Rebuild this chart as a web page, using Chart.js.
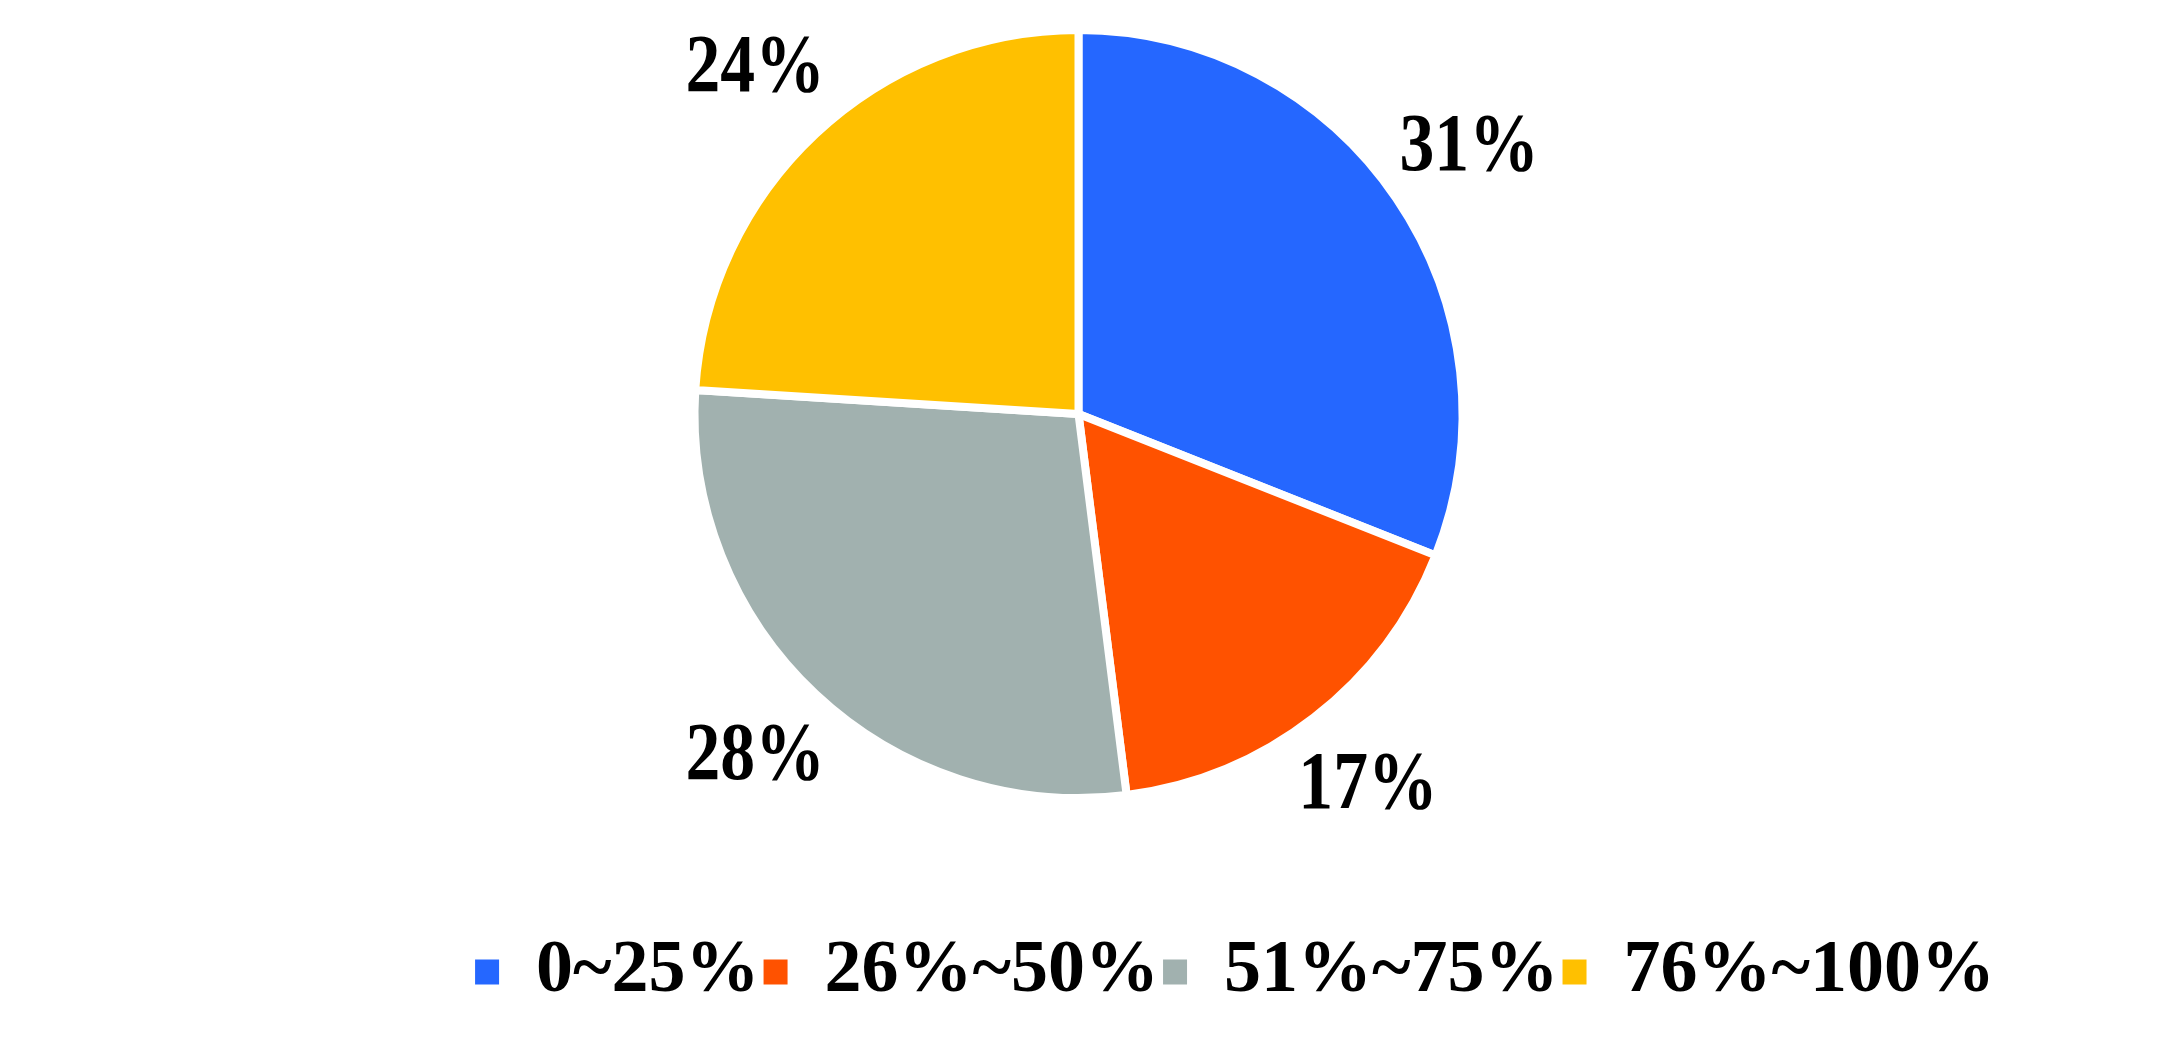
<!DOCTYPE html>
<html>
<head>
<meta charset="utf-8">
<script src="https://cdn.jsdelivr.net/npm/chart.js@4"></script>
<style>
  html, body { margin: 0; padding: 0; background: #fff; }
  #wrap { width: 2157px; height: 1059px; }
</style>
</head>
<body>
<div id="wrap"><canvas id="chart"></canvas></div>
<script>
const categories = ['0~25%', '26%~50%', '51%~75%', '76%~100%'];
const shares = [31, 17, 28, 24];
const slice_colors = ['#2567FF', '#FF5200', '#A1B1AF', '#FFC000'];

// percent labels outside each slice, along its middle angle
const outside_labels = {
    id: 'outside_labels',
    afterDatasetsDraw(chart) {
        const ctx = chart.ctx;
        const meta = chart.getDatasetMeta(0);
        ctx.save();
        ctx.fillStyle = '#000';
        ctx.font = 'bold 82px "Liberation Serif", "Times New Roman", serif';
        ctx.textAlign = 'center';
        ctx.textBaseline = 'middle';
        meta.data.forEach((arc, i) => {
            const p = arc.getProps(['x', 'y', 'startAngle', 'endAngle', 'outerRadius'], true);
            const mid = (p.startAngle + p.endAngle) / 2;
            const r = p.outerRadius * 1.23;
            const lx = p.x + Math.cos(mid) * r;
            const ly = p.y + Math.sin(mid) * r;
            ctx.save();
            ctx.translate(lx, ly);
            ctx.scale(0.85, 1);
            ctx.fillText(shares[i] + '%', 0, 0);
            ctx.restore();
        });
        ctx.restore();
    }
};

new Chart(document.getElementById('chart'), {
    type: 'pie',
    data: {
        labels: categories,
        datasets: [{
            data: shares,
            backgroundColor: slice_colors,
            borderColor: '#fff',
            borderWidth: 8
        }]
    },
    options: {
        responsive: true,
        maintainAspectRatio: false,
        animation: false,
        layout: {
            padding: { top: 26, bottom: 40, left: 158, right: 158 }
        },
        plugins: {
            tooltip: { enabled: false },
            legend: {
                position: 'bottom',
                align: 'end',
                title: {
                    display: true,
                    text: ' ',
                    font: { size: 10 },
                    padding: { top: 0, bottom: 117 }
                },
                labels: {
                    boxWidth: 24,
                    boxHeight: 25,
                    padding: 4,
                    color: '#000',
                    font: { family: '"Liberation Serif", "Times New Roman", serif', size: 74, weight: 'bold' },
                    generateLabels: chart => {
                        const items = Chart.overrides.pie.plugins.legend.labels.generateLabels(chart);
                        items.forEach(item => { item.lineWidth = 0; });
                        return items;
                    }
                }
            }
        }
    },
    plugins: [outside_labels]
});
</script>
</body>
</html>
